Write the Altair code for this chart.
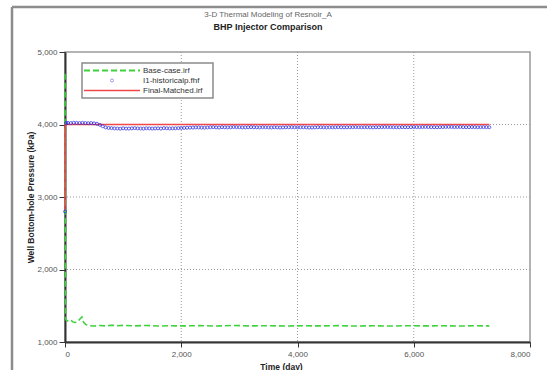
import altair as alt
import pandas as pd

# ---------------- data ----------------
base_t = [0, 8, 20, 60, 100, 140, 180, 220, 260, 290, 320, 360, 420, 500, 600, 700, 800,
          900, 1000, 1200, 1400, 1600, 1800, 2000, 2300, 2600, 2900, 3200, 3500, 3800,
          4100, 4400, 4700, 5000, 5300, 5600, 5900, 6200, 6500, 6800, 7100, 7300]
base_p = [4700, 1330, 1300, 1285, 1300, 1275, 1270, 1280, 1320, 1345, 1270, 1240, 1225, 1220, 1228, 1222, 1232,
          1225, 1230, 1222, 1228, 1220, 1225, 1222, 1226, 1220, 1228, 1222, 1225, 1220,
          1224, 1222, 1226, 1220, 1224, 1220, 1225, 1222, 1224, 1220, 1224, 1222]

hist_t = [0, 20, 50, 100, 150, 200, 250, 300, 350, 400, 450, 500, 550, 600, 650, 700, 750,
          800, 850, 900, 950, 1000, 1050, 1100, 1150, 1200, 1250, 1300, 1350, 1400, 1450,
          1500, 1550, 1600, 1650, 1700, 1750, 1800, 1850, 1900, 1950, 2000, 2050, 2100,
          2150, 2200, 2250, 2300, 2350, 2400, 2450, 2500, 2550, 2600, 2650, 2700, 2750,
          2800, 2850, 2900, 2950, 3000, 3050, 3100, 3150, 3200, 3250, 3300, 3350, 3400,
          3450, 3500, 3550, 3600, 3650, 3700, 3750, 3800, 3850, 3900, 3950, 4000, 4050,
          4100, 4150, 4200, 4250, 4300, 4350, 4400, 4450, 4500, 4550, 4600, 4650, 4700,
          4750, 4800, 4850, 4900, 4950, 5000, 5050, 5100, 5150, 5200, 5250, 5300, 5350,
          5400, 5450, 5500, 5550, 5600, 5650, 5700, 5750, 5800, 5850, 5900, 5950, 6000,
          6050, 6100, 6150, 6200, 6250, 6300, 6350, 6400, 6450, 6500, 6550, 6600, 6650,
          6700, 6750, 6800, 6850, 6900, 6950, 7000, 7050, 7100, 7150, 7200, 7250, 7300]
hist_p = [2800, 4020, 4022, 4020, 4024, 4022, 4020, 4023, 4020, 4018, 4020, 4016, 4010, 3995, 3975, 3960, 3952,
          3950, 3946, 3945, 3942, 3948, 3944, 3944, 3947, 3950, 3946, 3945, 3943, 3948, 3946,
          3944, 3946, 3947, 3944, 3950, 3948, 3945, 3947, 3948, 3950, 3952, 3953, 3955,
          3957, 3958, 3960, 3960, 3957, 3956, 3959, 3962, 3963, 3960, 3958, 3963, 3961,
          3960, 3962, 3965, 3963, 3962, 3960, 3960, 3962, 3964, 3962, 3961, 3960, 3963,
          3962, 3960, 3959, 3962, 3960, 3958, 3960, 3961, 3962, 3963, 3961, 3960, 3961,
          3962, 3960, 3958, 3959, 3960, 3962, 3962, 3960, 3959, 3961, 3961, 3962, 3963,
          3962, 3960, 3961, 3962, 3963, 3964, 3962, 3961, 3962, 3963, 3961, 3960, 3962,
          3962, 3964, 3965, 3964, 3963, 3962, 3961, 3962, 3964, 3963, 3962, 3964, 3965,
          3964, 3963, 3965, 3966, 3965, 3964, 3963, 3962, 3964, 3965, 3966, 3967, 3966,
          3964, 3965, 3966, 3964, 3963, 3964, 3965, 3964, 3962, 3963, 3964, 3963, 3962]

final_t = [0, 5, 7300]
final_p = [2820, 4000, 4000]

labels = ["Base-case.irf", "I1-historicalp.fhf", "Final-Matched.irf"]
colors = ["#3fd23f", "#1e1ee6", "#f04848"]

x_ticks = [0, 2000, 4000, 6000, 8000]
y_ticks = [1000, 2000, 3000, 4000, 5000]

W, H = 465, 290
FONT = "Liberation Sans"

base_df = pd.DataFrame({"t": base_t, "p": base_p, "o": list(range(len(base_t)))})
hist_df = pd.DataFrame({"t": hist_t, "p": hist_p})
final_df = pd.DataFrame({"t": final_t, "p": final_p, "o": list(range(len(final_t)))})

xs = alt.Scale(domain=[0, 8000], nice=False)
ys = alt.Scale(domain=[1000, 5000], nice=False)

x_axis = alt.Axis(values=x_ticks, format=",.0f", title="Time (day)", titleX=216, titleY=24,
                  titleBaseline="middle", labelPadding=3, tickSize=5)
y_axis = alt.Axis(values=y_ticks, format=",.0f", title="Well Bottom-hole Pressure (kPa)",
                  titleX=-35, titleY=H / 2, titleAngle=-90, titleBaseline="middle",
                  titleAlign="center", labelPadding=2, tickSize=6)

X = alt.X("t:Q", scale=xs, axis=x_axis)
Y = alt.Y("p:Q", scale=ys, axis=y_axis)

grid_v = alt.Chart(pd.DataFrame({"g": [2000, 4000, 6000]})).mark_rule(
    color="#9a9a9a", strokeDash=[1, 2], strokeWidth=1).encode(x=alt.X("g:Q", scale=xs))
grid_h = alt.Chart(pd.DataFrame({"g": [2000, 3000, 4000]})).mark_rule(
    color="#9a9a9a", strokeDash=[1, 2], strokeWidth=1).encode(y=alt.Y("g:Q", scale=ys))

base_line = alt.Chart(base_df).mark_line(color=colors[0], strokeWidth=1.6, strokeDash=[6, 3]).encode(
    x=X, y=Y, order="o:Q")
final_line = alt.Chart(final_df).mark_line(color=colors[2], strokeWidth=1.5).encode(
    x=X, y=Y, order="o:Q")
hist_pts = alt.Chart(hist_df).mark_point(color=colors[1], shape="circle", filled=False,
                                         size=9, strokeWidth=1).encode(x=X, y=Y)

one = pd.DataFrame({"a": [0]})

# legend (drawn)
leg_box = alt.Chart(one).mark_rect(fill="white", stroke="#8a8a8a", strokeWidth=1.5).encode(
    x=alt.value(17), x2=alt.value(148), y=alt.value(11), y2=alt.value(46))
leg_g = alt.Chart(one).mark_rule(color=colors[0], strokeWidth=2, strokeDash=[6, 3]).encode(
    x=alt.value(19), x2=alt.value(75), y=alt.value(18.5))
leg_b = alt.Chart(one).mark_point(color="#6a6aee", shape="circle", filled=False, size=9,
                                  strokeWidth=1).encode(x=alt.value(47), y=alt.value(28.5))
leg_r = alt.Chart(one).mark_rule(color=colors[2], strokeWidth=1.5).encode(
    x=alt.value(19), x2=alt.value(75), y=alt.value(38.5))
leg_txt = []
for i, yy in enumerate([18.5, 28.5, 38.5]):
    leg_txt.append(alt.Chart(pd.DataFrame({"l": [labels[i]]})).mark_text(
        align="left", baseline="middle", fontSize=8, font=FONT, color="#333").encode(
        x=alt.value(78), y=alt.value(yy), text="l:N"))

# titles
t1 = alt.Chart(pd.DataFrame({"l": ["3-D Thermal Modeling of Resnoir_A"]})).mark_text(
    align="center", baseline="middle", fontSize=8, font=FONT, color="#666").encode(
    x=alt.value(203), y=alt.value(-37), text="l:N")
t2 = alt.Chart(pd.DataFrame({"l": ["BHP Injector Comparison"]})).mark_text(
    align="center", baseline="middle", fontSize=9, fontWeight="bold", font=FONT, color="#222").encode(
    x=alt.value(203), y=alt.value(-25), text="l:N")

# outer frame
frame_top = alt.Chart(one).mark_rule(color="#8c8c8c", strokeWidth=2.5).encode(
    x=alt.value(-53), x2=alt.value(490), y=alt.value(-45))
frame_left = alt.Chart(one).mark_rule(color="#8c8c8c", strokeWidth=2.5).encode(
    x=alt.value(-53), y=alt.value(-45), y2=alt.value(330))

chart = alt.layer(
    frame_top, frame_left, grid_v, grid_h, base_line, final_line, hist_pts,
    leg_box, leg_g, leg_b, leg_r, *leg_txt, t1, t2
).properties(
    width=W, height=H,
    autosize=alt.AutoSizeParams(type="none"),
    padding={"left": 65, "top": 52, "right": 17, "bottom": 28},
    background="white",
).configure_view(
    stroke="#9a9a9a", strokeWidth=1.5
).configure_axis(
    grid=False, domainColor="#333", domainWidth=2, tickColor="#333", tickWidth=1,
    labelFont=FONT, labelFontSize=8, labelColor="#555",
    titleFont=FONT, titleFontSize=8.5, titleFontWeight="bold", titleColor="#222",
).configure_text(font=FONT)

chart.save("out.html", embed_options={"renderer": "svg", "actions": False})
